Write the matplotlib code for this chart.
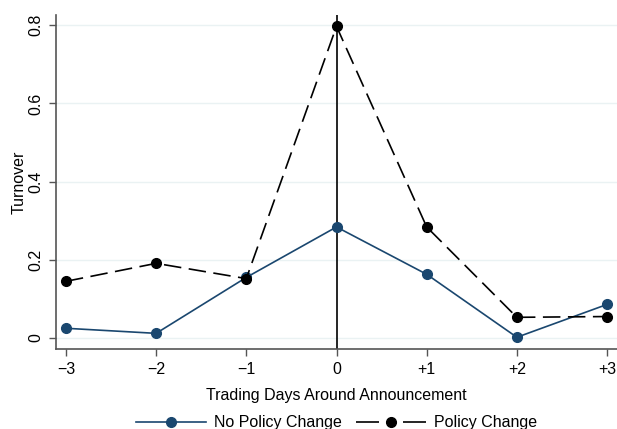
import matplotlib
matplotlib.use("Agg")
import matplotlib.pyplot as plt
from matplotlib.lines import Line2D

plt.rcParams['font.family'] = ['Liberation Sans', 'DejaVu Sans']

days = [-3, -2, -1, 0, 1, 2, 3]
day_labels = ['\u22123', '\u22122', '\u22121', '0', '+1', '+2', '+3']
no_policy = [0.025, 0.012, 0.155, 0.284, 0.163, 0.002, 0.086]
policy = [0.145, 0.191, 0.152, 0.797, 0.284, 0.053, 0.055]
y_ticks = [0, 0.2, 0.4, 0.6, 0.8]
y_labels = ['0', '0.2', '0.4', '0.6', '0.8']

navy = '#1a476f'
grid_col = '#eaf2f3'
spine_col = '#555555'

fig = plt.figure(figsize=(6.17, 4.29), dpi=100)
ax = fig.add_axes([56 / 617, 1 - 349 / 429, 1 - 56 / 617, (349 - 15) / 429])

ax.set_xlim(-3.11, 3.11)
ax.set_ylim(-0.028, 0.826)

for yv in y_ticks:
    ax.axhline(yv, color=grid_col, lw=1.0, zorder=0)

ax.axvline(0, color='black', lw=1.2, zorder=1)

ax.plot(days, no_policy, color=navy, lw=1.2, marker='o', ms=7,
        mfc=navy, mec=navy, zorder=3)
ax.plot(days, policy, color='black', lw=1.2, dashes=(10.5, 4.5), marker='o', ms=7,
        mfc='black', mec='black', zorder=3)

ax.set_xticks(days)
ax.set_xticklabels(day_labels)
ax.set_yticks(y_ticks)
ax.set_yticklabels(y_labels, rotation=90, va='center')

ax.tick_params(axis='both', direction='out', length=5, width=1,
               color=spine_col, labelsize=11.5, pad=4)

for s in ['top', 'right']:
    ax.spines[s].set_visible(False)
for s in ['left', 'bottom']:
    ax.spines[s].set_color(spine_col)
    ax.spines[s].set_linewidth(1.2)

ax.set_xlabel('Trading Days Around Announcement', fontsize=11.5, labelpad=8)
ax.set_ylabel('Turnover', fontsize=11.5, labelpad=1)

legend_handles = [
    Line2D([], [], color=navy, lw=1.2, marker='o', ms=7, mfc=navy, mec=navy),
    Line2D([], [], color='black', lw=1.2, dashes=(13.8, 14.4), marker='o', ms=7,
           mfc='black', mec='black'),
]
fig.legend(legend_handles, ['No Policy Change', 'Policy Change'],
           loc='center', bbox_to_anchor=(336.5 / 617, 1 - 423 / 429), ncol=2,
           frameon=False, fontsize=11.5, handlelength=4.4, columnspacing=0.9,
           handletextpad=0.5)

fig.savefig('out.png', dpi=100, facecolor='white')
